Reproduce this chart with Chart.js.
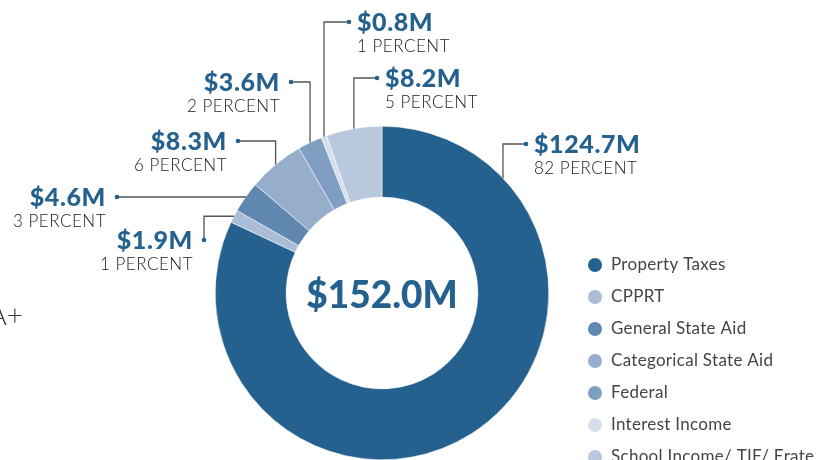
<!DOCTYPE html>
<html>
<head>
<meta charset="utf-8">
<script src="https://cdn.jsdelivr.net/npm/chart.js@4/dist/chart.umd.min.js"></script>
<style>
  html, body { margin: 0; padding: 0; background: #fff; }
  #wrap { position: relative; width: 829px; height: 460px; overflow: hidden; }
</style>
</head>
<body>
<div id="wrap"><canvas id="c" width="829" height="460"></canvas></div>
<script>
// ---- data ----
const categories = ['Property Taxes', 'CPPRT', 'General State Aid', 'Categorical State Aid', 'Federal', 'Interest Income', 'School Income/ TIF/ Erate'];
const valuesM = [124.7, 1.9, 4.6, 8.3, 3.6, 0.8, 8.2];
const percents = [82, 1, 3, 6, 2, 1, 5];
const totalLabel = '$152.0M';
const sideNote = 'AA+';

// ---- styles ----
const colors = ['#24618f', '#a9bdd6', '#5f87b0', '#96aecb', '#7f9ec2', '#d5deea', '#b8c9de'];
const BLUE = '#24618f';
const FONT = 'Lato, "Open Sans", sans-serif';

// callout layout: dot position, text side, route of leader, optional anchor angle (deg clockwise from top)
const callouts = [
  { dx: 526, dy: 144, side: 'right', route: 'hv', angle: 46.5 },
  { dx: 204, dy: 240, side: 'left', route: 'vh' },
  { dx: 117, dy: 197, side: 'left', route: 'hv' },
  { dx: 238, dy: 141, side: 'left', route: 'hv' },
  { dx: 291, dy: 82, side: 'left', route: 'hv' },
  { dx: 349, dy: 22, side: 'right', route: 'hv' },
  { dx: 377, dy: 78, side: 'right', route: 'hv' }
];

const calloutPlugin = {
  id: 'callouts',
  afterDraw(chart) {
    const ctx = chart.ctx;
    const meta = chart.getDatasetMeta(0);
    ctx.save();
    meta.data.forEach((arc, i) => {
      const p = arc.getProps(['x', 'y', 'startAngle', 'endAngle', 'outerRadius'], true);
      const c = callouts[i];
      let a = (p.startAngle + p.endAngle) / 2;
      if (c.angle !== undefined) a = -Math.PI / 2 + c.angle * Math.PI / 180;
      const ax = p.x + p.outerRadius * Math.cos(a);
      const ay = p.y + p.outerRadius * Math.sin(a);
      ctx.strokeStyle = '#555';
      ctx.lineWidth = 1.3;
      ctx.beginPath();
      ctx.moveTo(c.dx, c.dy);
      if (c.route === 'hv') {
        ctx.lineTo(ax, c.dy);
        ctx.lineTo(ax, ay);
      } else {
        ctx.lineTo(c.dx, ay);
        ctx.lineTo(ax, ay);
      }
      ctx.stroke();
      ctx.fillStyle = BLUE;
      ctx.beginPath();
      ctx.arc(c.dx, c.dy, 2.3, 0, Math.PI * 2);
      ctx.fill();

      const value = '$' + valuesM[i].toFixed(1) + 'M';
      const pct = percents[i] + ' PERCENT';
      const tx = c.side === 'right' ? c.dx + 8 : c.dx - 11;
      ctx.textAlign = c.side === 'right' ? 'left' : 'right';
      ctx.textBaseline = 'middle';
      ctx.fillStyle = BLUE;
      ctx.letterSpacing = '0.6px';
      ctx.font = '900 25px ' + FONT;
      ctx.fillText(value, tx, c.dy + 1);
      ctx.fillStyle = '#222';
      ctx.letterSpacing = '0.5px';
      ctx.font = '300 17px ' + FONT;
      ctx.fillText(pct, tx, c.dy + 25);
    });
    ctx.letterSpacing = '0px';

    // center total
    const p0 = meta.data[0].getProps(['x', 'y'], true);
    ctx.textAlign = 'center';
    ctx.textBaseline = 'middle';
    ctx.fillStyle = BLUE;
    ctx.font = '900 37px ' + FONT;
    ctx.fillText(totalLabel, p0.x, p0.y + 3);

    // legend
    const ds = chart.data.datasets[0];
    chart.data.labels.forEach((lab, i) => {
      const y = 265 + i * 32;
      ctx.fillStyle = ds.backgroundColor[i];
      ctx.beginPath();
      ctx.arc(595, y, 7, 0, Math.PI * 2);
      ctx.fill();
      ctx.fillStyle = '#444';
      ctx.letterSpacing = '0.3px';
      ctx.font = '17px ' + FONT;
      ctx.textAlign = 'left';
      ctx.textBaseline = 'middle';
      ctx.fillText(lab, 611, y);
    });
    ctx.letterSpacing = '0px';

    // cut-off side note
    ctx.fillStyle = '#333';
    ctx.font = '300 28px ' + FONT;
    ctx.textAlign = 'right';
    ctx.textBaseline = 'alphabetic';
    ctx.fillText(sideNote, 23, 325);
    ctx.restore();
  }
};

new Chart(document.getElementById('c'), {
  type: 'doughnut',
  data: {
    labels: categories,
    datasets: [{
      data: valuesM,
      backgroundColor: colors,
      borderColor: '#ffffff',
      borderWidth: 0.5,
      hoverOffset: 0
    }]
  },
  options: {
    responsive: false,
    animation: false,
    cutout: '57.5%',
    layout: { padding: { left: 215, right: 280, top: 126, bottom: 0 } },
    plugins: { legend: { display: false }, tooltip: { enabled: false } },
    events: []
  },
  plugins: [calloutPlugin]
});
</script>
</body>
</html>
